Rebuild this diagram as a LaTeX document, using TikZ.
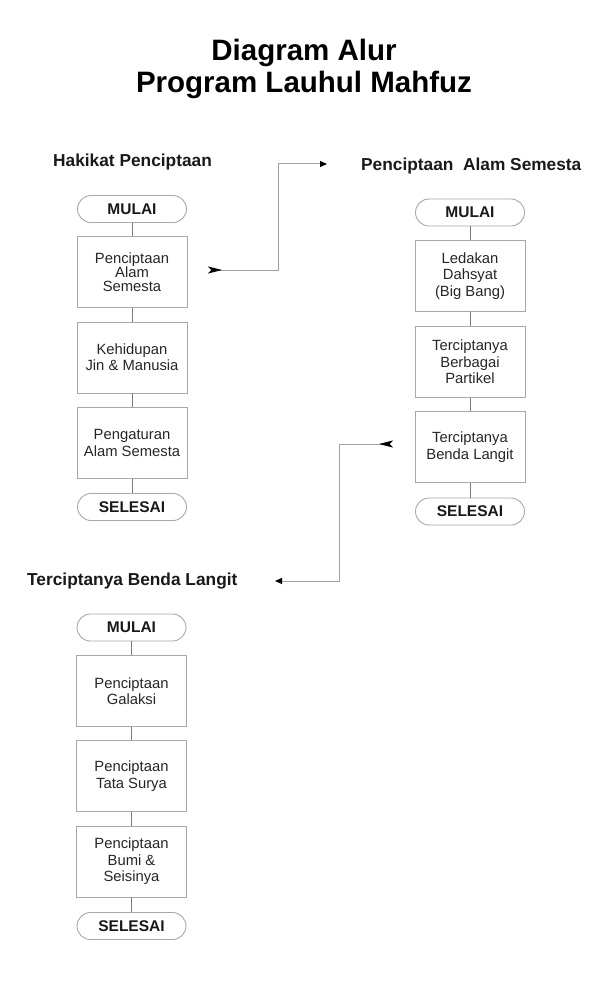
\documentclass[tikz,border=0pt]{standalone}
\usepackage{fontspec}
\setmainfont{Liberation Sans}
\usetikzlibrary{arrows.meta}
\definecolor{boxgray}{HTML}{A8A8A8}
\definecolor{linegray}{HTML}{7A7A7A}
\definecolor{linkgray}{HTML}{A0A0A0}
\definecolor{textgray}{HTML}{262626}
\newcommand{\titlefnt}{\fontsize{29.5}{32}\selectfont\bfseries}
\newcommand{\headfnt}{\fontsize{17.3}{20}\selectfont\bfseries}
\newcommand{\boxfnt}{\fontsize{14.8}{16.4}\selectfont}
\newcommand{\tightfnt}{\fontsize{14.8}{13.8}\selectfont}
\newcommand{\termfnt}{\fontsize{15.5}{17}\selectfont\bfseries}
\tikzset{
  term/.style={draw=boxgray, line width=0.9pt, rounded corners=13.5pt, minimum width=109pt, minimum height=27pt, inner sep=0pt, font=\termfnt, text=black!90},
  procbox/.style={draw=boxgray, line width=0.9pt, minimum width=110pt, minimum height=71pt, inner sep=0pt, align=center, font=\boxfnt, text=textgray},
  flow/.style={draw=linegray, line width=1pt},
  link/.style={draw=linkgray, line width=1pt},
  head/.style={anchor=west, inner sep=0pt, font=\headfnt, text=black!90},
  tailtip/.tip={Stealth[reversed, length=14pt, width=7pt, inset=3.5pt, fill=black, color=black, line width=0.8pt]},
  headtip/.tip={Triangle[length=7pt, width=6pt, fill=black, color=black]}
}
\begin{document}
\begin{tikzpicture}[x=1pt, y=-1pt]
\useasboundingbox (0,0) rectangle (609,1000);
% title
\node[align=center, font=\titlefnt, inner sep=0pt] (title) at (304,69) {Diagram Alur\\Program Lauhul Mahfuz};
% column 1
\node[head] (h1) at (53,162) {Hakikat Penciptaan};
\node[term] (m1) at (132,209) {MULAI};
\node[procbox, font=\tightfnt] (a1) at (132,272) {Penciptaan\\Alam\\Semesta};
\node[procbox] (a2) at (132,357.5) {Kehidupan\\Jin \& Manusia};
\node[procbox] (a3) at (132,443) {Pengaturan\\Alam Semesta};
\node[term] (s1) at (132,507) {SELESAI};
\draw[flow] (m1) -- (a1);
\draw[flow] (a1) -- (a2);
\draw[flow] (a2) -- (a3);
\draw[flow] (a3) -- (s1);
% column 2
\node[head] (h2) at (361,166) {Penciptaan\ \ Alam Semesta};
\node[term] (m2) at (470,212.5) {MULAI};
\node[procbox] (b1) at (470,276) {Ledakan\\Dahsyat\\(Big Bang)};
\node[procbox] (b2) at (470,362) {Terciptanya\\Berbagai\\Partikel};
\node[procbox] (b3) at (470,447) {Terciptanya\\Benda Langit};
\node[term] (s2) at (470,511.5) {SELESAI};
\draw[flow] (m2) -- (b1);
\draw[flow] (b1) -- (b2);
\draw[flow] (b2) -- (b3);
\draw[flow] (b3) -- (s2);
% column 3
\node[head] (h3) at (27,581) {Terciptanya Benda Langit};
\node[term] (m3) at (131.5,627.5) {MULAI};
\node[procbox] (c1) at (131.5,691) {Penciptaan\\Galaksi};
\node[procbox] (c2) at (131.5,776) {Penciptaan\\Tata Surya};
\node[procbox] (c3) at (131.5,861.5) {Penciptaan\\Bumi \&\\Seisinya};
\node[term] (s3) at (131.5,926) {SELESAI};
\draw[flow] (m3) -- (c1);
\draw[flow] (c1) -- (c2);
\draw[flow] (c2) -- (c3);
\draw[flow] (c3) -- (s3);
% links between diagrams
\coordinate (t1) at (208,270);
\coordinate (k1) at (278,164);
\coordinate (e1) at (327,164);
\draw[link, {tailtip}-{headtip}] (t1) -| (k1) -- (e1);
\coordinate (t2) at (393,444);
\coordinate (k2) at (339,581);
\coordinate (e2) at (275,581);
\draw[link, {tailtip}-{headtip}] (t2) -| (k2) -- (e2);
\end{tikzpicture}
\end{document}
